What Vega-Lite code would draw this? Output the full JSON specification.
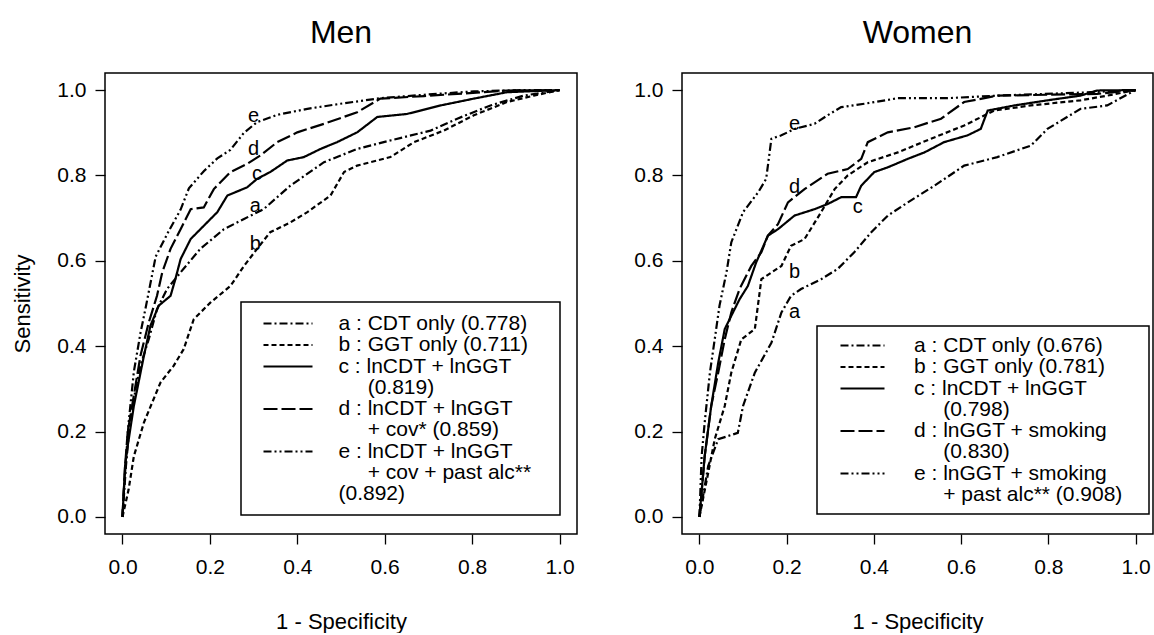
{
  "$schema": "https://vega.github.io/schema/vega-lite/v6.json",
  "background": "white",
  "padding": {"left": 11, "top": 16, "right": 0, "bottom": 0},
  "spacing": 55,
  "config": {
    "font": "Liberation Sans",
    "view": {"stroke": "black", "strokeWidth": 1.5},
    "axis": {
      "grid": false, "domain": false, "tickSize": 10, "tickColor": "black", "tickWidth": 1.3,
      "labelFontSize": 21, "labelColor": "black", "labelFlush": false, "labelOverlap": false,
      "titleFontSize": 22, "titleFontWeight": "normal", "titleColor": "black"
    },
    "title": {"fontSize": 32, "fontWeight": "normal", "color": "black", "baseline": "bottom", "offset": 23},
    "legend": {
      "title": null, "orient": "none", "strokeColor": "black", "fillColor": "white", "padding": 11,
      "symbolSize": 4, "symbolStrokeWidth": 2, "symbolStrokeColor": "black", "symbolFillColor": "transparent",
      "labelFontSize": 21, "labelColor": "black", "labelLimit": 600, "rowPadding": -0.5
    }
  },
  "datasets": {
    "roc": [
      {"panel":"Men","curve":"e","fpr":0,"tpr":0},{"panel":"Men","curve":"e","fpr":0.003,"tpr":0.06},{"panel":"Men","curve":"e","fpr":0.007,"tpr":0.12},{"panel":"Men","curve":"e","fpr":0.014,"tpr":0.22},{"panel":"Men","curve":"e","fpr":0.026,"tpr":0.34},{"panel":"Men","curve":"e","fpr":0.041,"tpr":0.43},{"panel":"Men","curve":"e","fpr":0.053,"tpr":0.49},{"panel":"Men","curve":"e","fpr":0.076,"tpr":0.61},{"panel":"Men","curve":"e","fpr":0.106,"tpr":0.67},{"panel":"Men","curve":"e","fpr":0.133,"tpr":0.72},{"panel":"Men","curve":"e","fpr":0.152,"tpr":0.77},{"panel":"Men","curve":"e","fpr":0.186,"tpr":0.81},{"panel":"Men","curve":"e","fpr":0.217,"tpr":0.84},{"panel":"Men","curve":"e","fpr":0.247,"tpr":0.86},{"panel":"Men","curve":"e","fpr":0.278,"tpr":0.9},{"panel":"Men","curve":"e","fpr":0.308,"tpr":0.925},{"panel":"Men","curve":"e","fpr":0.354,"tpr":0.942},{"panel":"Men","curve":"e","fpr":0.423,"tpr":0.956},{"panel":"Men","curve":"e","fpr":0.499,"tpr":0.968},{"panel":"Men","curve":"e","fpr":0.59,"tpr":0.981},{"panel":"Men","curve":"e","fpr":0.69,"tpr":0.989},{"panel":"Men","curve":"e","fpr":0.804,"tpr":0.997},{"panel":"Men","curve":"e","fpr":0.918,"tpr":1},{"panel":"Men","curve":"e","fpr":1,"tpr":1},
      {"panel":"Men","curve":"d","fpr":0,"tpr":0},{"panel":"Men","curve":"d","fpr":0.006,"tpr":0.12},{"panel":"Men","curve":"d","fpr":0.012,"tpr":0.2},{"panel":"Men","curve":"d","fpr":0.022,"tpr":0.26},{"panel":"Men","curve":"d","fpr":0.041,"tpr":0.377},{"panel":"Men","curve":"d","fpr":0.06,"tpr":0.455},{"panel":"Men","curve":"d","fpr":0.079,"tpr":0.518},{"panel":"Men","curve":"d","fpr":0.091,"tpr":0.573},{"panel":"Men","curve":"d","fpr":0.11,"tpr":0.628},{"panel":"Men","curve":"d","fpr":0.133,"tpr":0.674},{"panel":"Men","curve":"d","fpr":0.156,"tpr":0.721},{"panel":"Men","curve":"d","fpr":0.186,"tpr":0.725},{"panel":"Men","curve":"d","fpr":0.209,"tpr":0.768},{"panel":"Men","curve":"d","fpr":0.247,"tpr":0.808},{"panel":"Men","curve":"d","fpr":0.285,"tpr":0.827},{"panel":"Men","curve":"d","fpr":0.316,"tpr":0.847},{"panel":"Men","curve":"d","fpr":0.354,"tpr":0.878},{"panel":"Men","curve":"d","fpr":0.4,"tpr":0.901},{"panel":"Men","curve":"d","fpr":0.461,"tpr":0.921},{"panel":"Men","curve":"d","fpr":0.537,"tpr":0.948},{"panel":"Men","curve":"d","fpr":0.59,"tpr":0.98},{"panel":"Men","curve":"d","fpr":0.69,"tpr":0.986},{"panel":"Men","curve":"d","fpr":0.766,"tpr":0.991},{"panel":"Men","curve":"d","fpr":0.88,"tpr":0.999},{"panel":"Men","curve":"d","fpr":1,"tpr":1},
      {"panel":"Men","curve":"c","fpr":0,"tpr":0},{"panel":"Men","curve":"c","fpr":0.006,"tpr":0.12},{"panel":"Men","curve":"c","fpr":0.011,"tpr":0.16},{"panel":"Men","curve":"c","fpr":0.026,"tpr":0.26},{"panel":"Men","curve":"c","fpr":0.049,"tpr":0.377},{"panel":"Men","curve":"c","fpr":0.064,"tpr":0.448},{"panel":"Men","curve":"c","fpr":0.083,"tpr":0.495},{"panel":"Men","curve":"c","fpr":0.11,"tpr":0.518},{"panel":"Men","curve":"c","fpr":0.121,"tpr":0.557},{"panel":"Men","curve":"c","fpr":0.133,"tpr":0.604},{"panel":"Men","curve":"c","fpr":0.156,"tpr":0.651},{"panel":"Men","curve":"c","fpr":0.186,"tpr":0.682},{"panel":"Men","curve":"c","fpr":0.217,"tpr":0.714},{"panel":"Men","curve":"c","fpr":0.24,"tpr":0.753},{"panel":"Men","curve":"c","fpr":0.285,"tpr":0.772},{"panel":"Men","curve":"c","fpr":0.308,"tpr":0.792},{"panel":"Men","curve":"c","fpr":0.338,"tpr":0.808},{"panel":"Men","curve":"c","fpr":0.377,"tpr":0.835},{"panel":"Men","curve":"c","fpr":0.415,"tpr":0.843},{"panel":"Men","curve":"c","fpr":0.453,"tpr":0.862},{"panel":"Men","curve":"c","fpr":0.491,"tpr":0.878},{"panel":"Men","curve":"c","fpr":0.537,"tpr":0.901},{"panel":"Men","curve":"c","fpr":0.583,"tpr":0.937},{"panel":"Men","curve":"c","fpr":0.651,"tpr":0.944},{"panel":"Men","curve":"c","fpr":0.728,"tpr":0.964},{"panel":"Men","curve":"c","fpr":0.804,"tpr":0.98},{"panel":"Men","curve":"c","fpr":0.88,"tpr":0.995},{"panel":"Men","curve":"c","fpr":1,"tpr":1},
      {"panel":"Men","curve":"a","fpr":0,"tpr":0},{"panel":"Men","curve":"a","fpr":0.008,"tpr":0.12},{"panel":"Men","curve":"a","fpr":0.015,"tpr":0.2},{"panel":"Men","curve":"a","fpr":0.03,"tpr":0.3},{"panel":"Men","curve":"a","fpr":0.041,"tpr":0.354},{"panel":"Men","curve":"a","fpr":0.06,"tpr":0.416},{"panel":"Men","curve":"a","fpr":0.079,"tpr":0.487},{"panel":"Men","curve":"a","fpr":0.102,"tpr":0.534},{"panel":"Men","curve":"a","fpr":0.133,"tpr":0.573},{"panel":"Men","curve":"a","fpr":0.178,"tpr":0.628},{"panel":"Men","curve":"a","fpr":0.232,"tpr":0.674},{"panel":"Men","curve":"a","fpr":0.278,"tpr":0.698},{"panel":"Men","curve":"a","fpr":0.323,"tpr":0.721},{"panel":"Men","curve":"a","fpr":0.384,"tpr":0.776},{"panel":"Men","curve":"a","fpr":0.461,"tpr":0.831},{"panel":"Men","curve":"a","fpr":0.537,"tpr":0.862},{"panel":"Men","curve":"a","fpr":0.613,"tpr":0.882},{"panel":"Men","curve":"a","fpr":0.705,"tpr":0.905},{"panel":"Men","curve":"a","fpr":0.766,"tpr":0.933},{"panel":"Men","curve":"a","fpr":0.842,"tpr":0.964},{"panel":"Men","curve":"a","fpr":0.918,"tpr":0.987},{"panel":"Men","curve":"a","fpr":1,"tpr":1},
      {"panel":"Men","curve":"b","fpr":0,"tpr":0},{"panel":"Men","curve":"b","fpr":0.014,"tpr":0.064},{"panel":"Men","curve":"b","fpr":0.026,"tpr":0.142},{"panel":"Men","curve":"b","fpr":0.049,"tpr":0.221},{"panel":"Men","curve":"b","fpr":0.087,"tpr":0.315},{"panel":"Men","curve":"b","fpr":0.117,"tpr":0.354},{"panel":"Men","curve":"b","fpr":0.14,"tpr":0.393},{"panel":"Men","curve":"b","fpr":0.163,"tpr":0.463},{"panel":"Men","curve":"b","fpr":0.201,"tpr":0.502},{"panel":"Men","curve":"b","fpr":0.247,"tpr":0.541},{"panel":"Men","curve":"b","fpr":0.278,"tpr":0.588},{"panel":"Men","curve":"b","fpr":0.308,"tpr":0.628},{"panel":"Men","curve":"b","fpr":0.338,"tpr":0.667},{"panel":"Men","curve":"b","fpr":0.384,"tpr":0.69},{"panel":"Men","curve":"b","fpr":0.423,"tpr":0.714},{"panel":"Men","curve":"b","fpr":0.476,"tpr":0.753},{"panel":"Men","curve":"b","fpr":0.507,"tpr":0.808},{"panel":"Men","curve":"b","fpr":0.537,"tpr":0.823},{"panel":"Men","curve":"b","fpr":0.613,"tpr":0.843},{"panel":"Men","curve":"b","fpr":0.667,"tpr":0.878},{"panel":"Men","curve":"b","fpr":0.735,"tpr":0.905},{"panel":"Men","curve":"b","fpr":0.804,"tpr":0.941},{"panel":"Men","curve":"b","fpr":0.88,"tpr":0.972},{"panel":"Men","curve":"b","fpr":0.941,"tpr":0.987},{"panel":"Men","curve":"b","fpr":1,"tpr":1},
      {"panel":"Women","curve":"e","fpr":0,"tpr":0},{"panel":"Women","curve":"e","fpr":0.005,"tpr":0.142},{"panel":"Women","curve":"e","fpr":0.012,"tpr":0.221},{"panel":"Women","curve":"e","fpr":0.024,"tpr":0.338},{"panel":"Women","curve":"e","fpr":0.035,"tpr":0.416},{"panel":"Women","curve":"e","fpr":0.046,"tpr":0.495},{"panel":"Women","curve":"e","fpr":0.062,"tpr":0.573},{"panel":"Women","curve":"e","fpr":0.073,"tpr":0.643},{"panel":"Women","curve":"e","fpr":0.1,"tpr":0.714},{"panel":"Women","curve":"e","fpr":0.135,"tpr":0.761},{"panel":"Women","curve":"e","fpr":0.153,"tpr":0.792},{"panel":"Women","curve":"e","fpr":0.165,"tpr":0.886},{"panel":"Women","curve":"e","fpr":0.188,"tpr":0.894},{"panel":"Women","curve":"e","fpr":0.218,"tpr":0.909},{"panel":"Women","curve":"e","fpr":0.264,"tpr":0.921},{"panel":"Women","curve":"e","fpr":0.294,"tpr":0.941},{"panel":"Women","curve":"e","fpr":0.325,"tpr":0.96},{"panel":"Women","curve":"e","fpr":0.378,"tpr":0.968},{"panel":"Women","curve":"e","fpr":0.455,"tpr":0.981},{"panel":"Women","curve":"e","fpr":0.569,"tpr":0.981},{"panel":"Women","curve":"e","fpr":0.683,"tpr":0.987},{"panel":"Women","curve":"e","fpr":0.874,"tpr":0.994},{"panel":"Women","curve":"e","fpr":1,"tpr":1},
      {"panel":"Women","curve":"d","fpr":0,"tpr":0},{"panel":"Women","curve":"d","fpr":0.012,"tpr":0.142},{"panel":"Women","curve":"d","fpr":0.027,"tpr":0.26},{"panel":"Women","curve":"d","fpr":0.043,"tpr":0.338},{"panel":"Women","curve":"d","fpr":0.058,"tpr":0.416},{"panel":"Women","curve":"d","fpr":0.073,"tpr":0.479},{"panel":"Women","curve":"d","fpr":0.092,"tpr":0.534},{"panel":"Women","curve":"d","fpr":0.119,"tpr":0.588},{"panel":"Women","curve":"d","fpr":0.142,"tpr":0.62},{"panel":"Women","curve":"d","fpr":0.157,"tpr":0.659},{"panel":"Women","curve":"d","fpr":0.18,"tpr":0.686},{"panel":"Women","curve":"d","fpr":0.203,"tpr":0.737},{"panel":"Women","curve":"d","fpr":0.241,"tpr":0.768},{"panel":"Women","curve":"d","fpr":0.294,"tpr":0.804},{"panel":"Women","curve":"d","fpr":0.34,"tpr":0.815},{"panel":"Women","curve":"d","fpr":0.371,"tpr":0.839},{"panel":"Women","curve":"d","fpr":0.386,"tpr":0.878},{"panel":"Women","curve":"d","fpr":0.432,"tpr":0.901},{"panel":"Women","curve":"d","fpr":0.493,"tpr":0.913},{"panel":"Women","curve":"d","fpr":0.554,"tpr":0.933},{"panel":"Women","curve":"d","fpr":0.607,"tpr":0.972},{"panel":"Women","curve":"d","fpr":0.683,"tpr":0.987},{"panel":"Women","curve":"d","fpr":0.912,"tpr":0.991},{"panel":"Women","curve":"d","fpr":1,"tpr":1},
      {"panel":"Women","curve":"c","fpr":0,"tpr":0},{"panel":"Women","curve":"c","fpr":0.012,"tpr":0.142},{"panel":"Women","curve":"c","fpr":0.027,"tpr":0.26},{"panel":"Women","curve":"c","fpr":0.043,"tpr":0.361},{"panel":"Women","curve":"c","fpr":0.058,"tpr":0.44},{"panel":"Women","curve":"c","fpr":0.073,"tpr":0.471},{"panel":"Women","curve":"c","fpr":0.092,"tpr":0.51},{"panel":"Women","curve":"c","fpr":0.111,"tpr":0.541},{"panel":"Women","curve":"c","fpr":0.13,"tpr":0.596},{"panel":"Women","curve":"c","fpr":0.157,"tpr":0.659},{"panel":"Women","curve":"c","fpr":0.18,"tpr":0.674},{"panel":"Women","curve":"c","fpr":0.218,"tpr":0.706},{"panel":"Women","curve":"c","fpr":0.264,"tpr":0.721},{"panel":"Women","curve":"c","fpr":0.294,"tpr":0.733},{"panel":"Women","curve":"c","fpr":0.325,"tpr":0.749},{"panel":"Women","curve":"c","fpr":0.359,"tpr":0.749},{"panel":"Women","curve":"c","fpr":0.371,"tpr":0.776},{"panel":"Women","curve":"c","fpr":0.401,"tpr":0.808},{"panel":"Women","curve":"c","fpr":0.432,"tpr":0.819},{"panel":"Women","curve":"c","fpr":0.478,"tpr":0.839},{"panel":"Women","curve":"c","fpr":0.516,"tpr":0.854},{"panel":"Women","curve":"c","fpr":0.561,"tpr":0.878},{"panel":"Women","curve":"c","fpr":0.615,"tpr":0.894},{"panel":"Women","curve":"c","fpr":0.645,"tpr":0.909},{"panel":"Women","curve":"c","fpr":0.661,"tpr":0.952},{"panel":"Women","curve":"c","fpr":0.722,"tpr":0.964},{"panel":"Women","curve":"c","fpr":0.798,"tpr":0.976},{"panel":"Women","curve":"c","fpr":0.874,"tpr":0.987},{"panel":"Women","curve":"c","fpr":0.912,"tpr":0.999},{"panel":"Women","curve":"c","fpr":1,"tpr":1},
      {"panel":"Women","curve":"b","fpr":0,"tpr":0},{"panel":"Women","curve":"b","fpr":0.02,"tpr":0.103},{"panel":"Women","curve":"b","fpr":0.035,"tpr":0.182},{"panel":"Women","curve":"b","fpr":0.058,"tpr":0.26},{"panel":"Women","curve":"b","fpr":0.073,"tpr":0.338},{"panel":"Women","curve":"b","fpr":0.096,"tpr":0.416},{"panel":"Women","curve":"b","fpr":0.127,"tpr":0.44},{"panel":"Women","curve":"b","fpr":0.142,"tpr":0.557},{"panel":"Women","curve":"b","fpr":0.188,"tpr":0.588},{"panel":"Women","curve":"b","fpr":0.21,"tpr":0.635},{"panel":"Women","curve":"b","fpr":0.241,"tpr":0.651},{"panel":"Women","curve":"b","fpr":0.279,"tpr":0.714},{"panel":"Women","curve":"b","fpr":0.31,"tpr":0.768},{"panel":"Women","curve":"b","fpr":0.34,"tpr":0.8},{"panel":"Women","curve":"b","fpr":0.386,"tpr":0.831},{"panel":"Women","curve":"b","fpr":0.455,"tpr":0.854},{"panel":"Women","curve":"b","fpr":0.531,"tpr":0.886},{"panel":"Women","curve":"b","fpr":0.607,"tpr":0.917},{"panel":"Women","curve":"b","fpr":0.676,"tpr":0.952},{"panel":"Women","curve":"b","fpr":0.76,"tpr":0.964},{"panel":"Women","curve":"b","fpr":0.874,"tpr":0.976},{"panel":"Women","curve":"b","fpr":0.935,"tpr":0.987},{"panel":"Women","curve":"b","fpr":1,"tpr":1},
      {"panel":"Women","curve":"a","fpr":0,"tpr":0},{"panel":"Women","curve":"a","fpr":0.02,"tpr":0.119},{"panel":"Women","curve":"a","fpr":0.043,"tpr":0.182},{"panel":"Women","curve":"a","fpr":0.088,"tpr":0.197},{"panel":"Women","curve":"a","fpr":0.1,"tpr":0.26},{"panel":"Women","curve":"a","fpr":0.127,"tpr":0.338},{"panel":"Women","curve":"a","fpr":0.165,"tpr":0.408},{"panel":"Women","curve":"a","fpr":0.188,"tpr":0.479},{"panel":"Women","curve":"a","fpr":0.21,"tpr":0.518},{"panel":"Women","curve":"a","fpr":0.233,"tpr":0.534},{"panel":"Women","curve":"a","fpr":0.279,"tpr":0.557},{"panel":"Women","curve":"a","fpr":0.317,"tpr":0.581},{"panel":"Women","curve":"a","fpr":0.355,"tpr":0.62},{"panel":"Women","curve":"a","fpr":0.394,"tpr":0.667},{"panel":"Women","curve":"a","fpr":0.432,"tpr":0.706},{"panel":"Women","curve":"a","fpr":0.478,"tpr":0.737},{"panel":"Women","curve":"a","fpr":0.539,"tpr":0.776},{"panel":"Women","curve":"a","fpr":0.607,"tpr":0.823},{"panel":"Women","curve":"a","fpr":0.683,"tpr":0.843},{"panel":"Women","curve":"a","fpr":0.76,"tpr":0.87},{"panel":"Women","curve":"a","fpr":0.798,"tpr":0.909},{"panel":"Women","curve":"a","fpr":0.874,"tpr":0.956},{"panel":"Women","curve":"a","fpr":0.935,"tpr":0.964},{"panel":"Women","curve":"a","fpr":1,"tpr":1}
    ],
    "menModels": [
      {"curve":"a","label":"a : CDT only (0.778)"},
      {"curve":"b","label":"b : GGT only (0.711)"},
      {"curve":"c","label":"c : lnCDT + lnGGT|\u200b\u00a0\u00a0\u00a0\u00a0\u00a0(0.819)"},
      {"curve":"d","label":"d : lnCDT + lnGGT|\u200b\u00a0\u00a0\u00a0\u00a0\u00a0+ cov* (0.859)"},
      {"curve":"e","label":"e : lnCDT + lnGGT|\u200b\u00a0\u00a0\u00a0\u00a0\u00a0+ cov + past alc**\u00a0\u00a0\u00a0\u200b|(0.892)"}
    ],
    "womenModels": [
      {"curve":"a","label":"a : CDT only (0.676)"},
      {"curve":"b","label":"b : GGT only (0.781)"},
      {"curve":"c","label":"c : lnCDT + lnGGT|\u200b\u00a0\u00a0\u00a0\u00a0\u00a0(0.798)"},
      {"curve":"d","label":"d : lnGGT + smoking|\u200b\u00a0\u00a0\u00a0\u00a0\u00a0(0.830)"},
      {"curve":"e","label":"e : lnGGT + smoking|\u200b\u00a0\u00a0\u00a0\u00a0\u00a0+ past alc** (0.908)\u00a0\u00a0\u00a0\u200b"}
    ],
    "curveLabels": [
      {"panel":"Men","curve":"e","fpr":0.30,"tpr":0.94},
      {"panel":"Men","curve":"d","fpr":0.30,"tpr":0.862},
      {"panel":"Men","curve":"c","fpr":0.308,"tpr":0.804},
      {"panel":"Men","curve":"a","fpr":0.304,"tpr":0.729},
      {"panel":"Men","curve":"b","fpr":0.304,"tpr":0.639},
      {"panel":"Women","curve":"e","fpr":0.218,"tpr":0.921},
      {"panel":"Women","curve":"d","fpr":0.218,"tpr":0.772},
      {"panel":"Women","curve":"c","fpr":0.363,"tpr":0.725},
      {"panel":"Women","curve":"b","fpr":0.218,"tpr":0.573},
      {"panel":"Women","curve":"a","fpr":0.218,"tpr":0.479}
    ]
  },
  "hconcat": [
    {
      "title": {"text": "Men"},
      "width": 472,
      "height": 461,
      "layer": [
        {
          "data": {"name": "roc"},
          "transform": [
            {"filter": "datum.panel === 'Men'"},
            {"lookup": "curve", "from": {"data": {"name": "menModels"}, "key": "curve", "fields": ["label"]}}
          ],
          "mark": {"type": "line", "color": "black", "strokeWidth": 2.2},
          "encoding": {
            "x": {"field": "fpr", "type": "quantitative", "scale": {"domain": [-0.04, 1.04], "nice": false, "zero": false},
                  "axis": {"title": "1 - Specificity", "values": [0, 0.2, 0.4, 0.6, 0.8, 1], "format": ".1f", "labelFontSize": 21, "labelPadding": 12, "titlePadding": 34}},
            "y": {"field": "tpr", "type": "quantitative", "scale": {"domain": [-0.04, 1.04], "nice": false, "zero": false},
                  "axis": {"title": "Sensitivity", "values": [0, 0.2, 0.4, 0.6, 0.8, 1], "format": ".1f", "labelFontSize": 21, "labelPadding": 9, "titlePadding": 22}},
            "strokeDash": {"field": "label", "type": "nominal",
              "scale": {"range": [[8, 3, 2, 3], [5, 3], [1, 0], [14, 4], [8, 3, 2, 3, 2, 3]]},
              "legend": {"legendX": 136, "legendY": 229, "symbolType": "M-24.5,0H24.5", "symbolOffset": 25.5, "labelOffset": 40,
                         "labelExpr": "split(datum.label, '|')",
                         "encode": {"labels": {"update": {"lineHeight": {"value": 21}}}, "legend": {"update": {"strokeWidth": {"value": 1.5}}}}}}
          }
        },
        {
          "data": {"name": "curveLabels"},
          "transform": [{"filter": "datum.panel === 'Men'"}],
          "mark": {"type": "text", "fontSize": 20, "color": "black", "align": "center", "baseline": "middle"},
          "encoding": {
            "x": {"field": "fpr", "type": "quantitative"},
            "y": {"field": "tpr", "type": "quantitative"},
            "text": {"field": "curve"}
          }
        }
      ]
    },
    {
      "title": {"text": "Women"},
      "width": 471,
      "height": 461,
      "layer": [
        {
          "data": {"name": "roc"},
          "transform": [
            {"filter": "datum.panel === 'Women'"},
            {"lookup": "curve", "from": {"data": {"name": "womenModels"}, "key": "curve", "fields": ["label"]}}
          ],
          "mark": {"type": "line", "color": "black", "strokeWidth": 2.2},
          "encoding": {
            "x": {"field": "fpr", "type": "quantitative", "scale": {"domain": [-0.04, 1.04], "nice": false, "zero": false},
                  "axis": {"title": "1 - Specificity", "values": [0, 0.2, 0.4, 0.6, 0.8, 1], "format": ".1f", "labelFontSize": 21, "labelPadding": 12, "titlePadding": 34}},
            "y": {"field": "tpr", "type": "quantitative", "scale": {"domain": [-0.04, 1.04], "nice": false, "zero": false},
                  "axis": {"title": null, "values": [0, 0.2, 0.4, 0.6, 0.8, 1], "format": ".1f", "labelFontSize": 21, "labelPadding": 9}},
            "strokeDash": {"field": "label", "type": "nominal",
              "scale": {"range": [[8, 3, 2, 3], [5, 3], [1, 0], [14, 4], [8, 3, 2, 3, 2, 3]]},
              "legend": {"legendX": 135, "legendY": 253, "padding": 9, "symbolType": "M-22,0H22", "symbolOffset": 26, "labelOffset": 41,
                         "labelExpr": "split(datum.label, '|')",
                         "encode": {"labels": {"update": {"lineHeight": {"value": 21}}}, "legend": {"update": {"strokeWidth": {"value": 1.5}}}}}}
          }
        },
        {
          "data": {"name": "curveLabels"},
          "transform": [{"filter": "datum.panel === 'Women'"}],
          "mark": {"type": "text", "fontSize": 20, "color": "black", "align": "center", "baseline": "middle"},
          "encoding": {
            "x": {"field": "fpr", "type": "quantitative"},
            "y": {"field": "tpr", "type": "quantitative"},
            "text": {"field": "curve"}
          }
        }
      ]
    }
  ],
  "resolve": {"scale": {"strokeDash": "independent", "x": "independent", "y": "independent"}, "legend": {"strokeDash": "independent"}}
}
